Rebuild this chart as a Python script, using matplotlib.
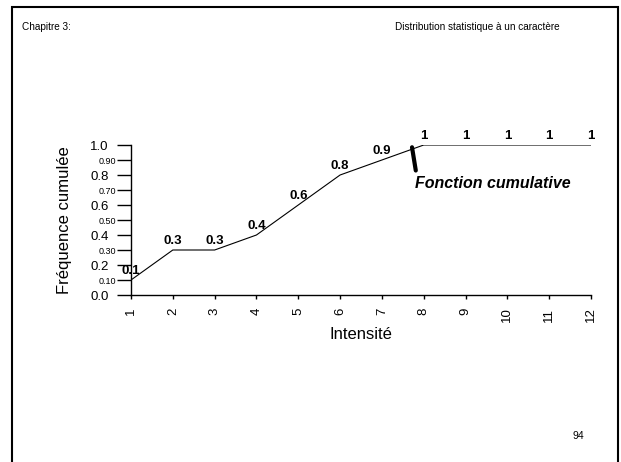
import numpy as np
import matplotlib.pyplot as plt
from matplotlib.patches import Rectangle

plt.rcParams['font.family'] = ['Liberation Sans', 'DejaVu Sans']

# intensity classes and cumulated frequencies
intensite = [1, 2, 3, 4, 5, 6, 7, 8, 9, 10, 11, 12]
freq_cumulee = [0.1, 0.3, 0.3, 0.4, 0.6, 0.8, 0.9, 1, 1, 1, 1, 1]
labels_points = ['0.1', '0.3', '0.3', '0.4', '0.6', '0.8', '0.9', '1', '1', '1', '1', '1']

major_y = [0.0, 0.2, 0.4, 0.6, 0.8, 1.0]
minor_y = [0.1, 0.3, 0.5, 0.7, 0.9]
major_y_labels = ['0.0', '0.2', '0.4', '0.6', '0.8', '1.0']
minor_y_labels = ['0.10', '0.30', '0.50', '0.70', '0.90']

W, H = 621, 462
fig = plt.figure(figsize=(W / 100, H / 100), dpi=100)

# slide frame
fig.patches.append(Rectangle((11.5 / W, -0.05), (618 - 11.5) / W, 1.05 - 7.5 / H,
                             transform=fig.transFigure, fill=False,
                             edgecolor='black', linewidth=1.5))

fig.text(22 / W, 1 - 27 / H, 'Chapitre 3:', fontsize=7.2, va='center', ha='left')
fig.text(395 / W, 1 - 27 / H, 'Distribution statistique à un caractère',
         fontsize=7.2, va='center', ha='left')
fig.text(578 / W, 1 - 436 / H, '94', fontsize=7.5, va='center', ha='center')

# plot region
x0, x1, y0, y1 = 131, 591, 145, 295
ax = fig.add_axes([x0 / W, 1 - y1 / H, (x1 - x0) / W, (y1 - y0) / H])
ax.plot(intensite, freq_cumulee, color='black', linewidth=0.8)
ax.set_xlim(1, 12)
ax.set_ylim(0, 1)

for sp in ['top', 'right']:
    ax.spines[sp].set_visible(False)
ax.spines['left'].set_linewidth(1.0)
ax.spines['bottom'].set_linewidth(1.0)

ax.set_xticks(intensite)
ax.set_xticklabels([str(i) for i in intensite], rotation=90, fontsize=9.5)
ax.tick_params(axis='x', length=3, width=1, pad=6)

ax.set_yticks(major_y)
ax.set_yticklabels(major_y_labels, fontsize=9.5)
ax.set_yticks(minor_y, minor=True)
ax.set_yticklabels(minor_y_labels, minor=True, fontsize=6.5)
ax.tick_params(axis='y', which='major', length=10, width=1, pad=6)
ax.tick_params(axis='y', which='minor', length=10, width=1, pad=1)

ax.set_xlabel('Intensité', fontsize=12, labelpad=3)
ax.set_ylabel('Fréquence cumulée', fontsize=12, labelpad=13)

for xv, yv, lab in zip(intensite, freq_cumulee, labels_points):
    ax.annotate(lab, (xv, yv), xytext=(0, 2), textcoords='offset points',
                ha='center', va='bottom', fontsize=9.5, fontweight='bold',
                clip_on=False, annotation_clip=False)

# pointer and caption for the curve
ax.plot([7.72, 7.81], [0.985, 0.83], color='black', linewidth=3,
        solid_capstyle='round', clip_on=False)
ax.text(7.78, 0.745, 'Fonction cumulative', fontsize=11.5, fontweight='bold',
        fontstyle='italic', ha='left', va='center')

fig.savefig('out.png', dpi=100, facecolor='white')
